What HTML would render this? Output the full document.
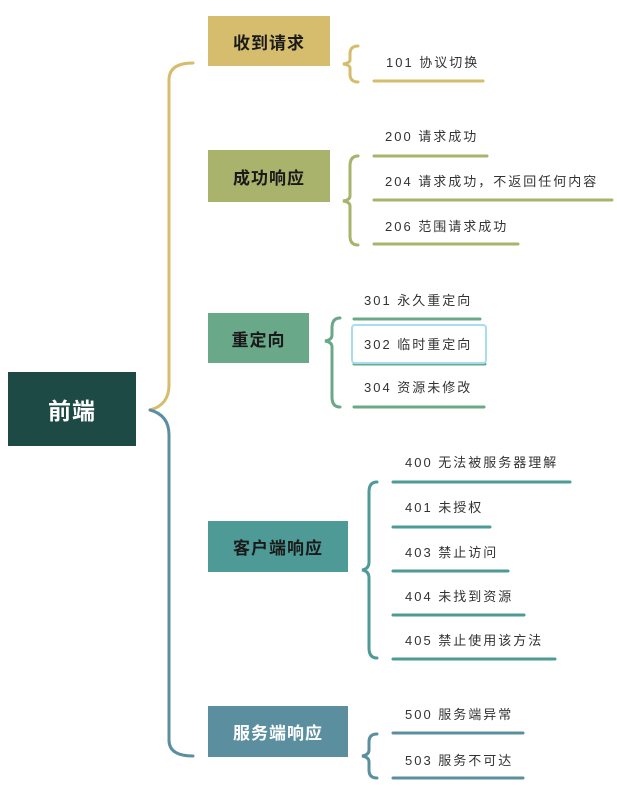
<!DOCTYPE html>
<html><head><meta charset="utf-8"><style>
body{margin:0;width:617px;height:791px;background:#fff;position:relative;overflow:hidden;font-family:"Liberation Sans","Noto Sans CJK SC",sans-serif}
.b{position:absolute;display:flex;align-items:center;justify-content:center;font-weight:bold;font-size:17px;color:#1a1a1a;letter-spacing:1px}
.t{position:absolute;font-size:13px;color:#333;line-height:16px;white-space:nowrap;letter-spacing:2px}
svg{position:absolute;left:0;top:0}
</style></head><body>
<svg width="617" height="791" fill="none" stroke-linecap="round">
<path d="M150 410 Q169 405 169 385 L169 80 Q169 63 193 63" stroke="#d6bd6e" stroke-width="3"/>
<path d="M150 410 Q169 415 169 435 L169 740 Q169 756 193 756" stroke="#5b8fa0" stroke-width="3"/>
<path d="M358 46 Q350 46 350 54 L350 60 Q350 63 343 64 Q350 65 350 68 L350 74 Q350 82 358 82" stroke="#d6bd6e" stroke-width="3"/>
<path d="M358 156 Q350 156 350 166 L350 196 Q350 200 343 201 Q350 202 350 206 L350 236 Q350 245 358 245" stroke="#a9b36b" stroke-width="3"/>
<path d="M340 318 Q332 318 332 328 L332 335 Q332 340 325 341 Q332 342 332 347 L332 397 Q332 407 340 407" stroke="#6aa88a" stroke-width="3"/>
<path d="M377 482 Q369 482 369 492 L369 562 Q369 569 362 570 Q369 571 369 578 L369 648 Q369 658 377 658" stroke="#4e9a96" stroke-width="3"/>
<path d="M377 734 Q369 734 369 742 L369 750 Q369 755 362 756 Q369 757 369 762 L369 770 Q369 778 377 778" stroke="#5b8fa0" stroke-width="3"/>
<g stroke-width="3">
<path d="M374 81 H483" stroke="#d6bd6e"/>
<path d="M374 156 H487" stroke="#a9b36b"/>
<path d="M374 200 H612" stroke="#a9b36b"/>
<path d="M374 244 H518" stroke="#a9b36b"/>
<path d="M354 319 H480" stroke="#6aa88a"/>
<path d="M354 364 H485" stroke="#6aa88a"/>
<path d="M354 407 H484" stroke="#6aa88a"/>
<path d="M393 482 H570" stroke="#4e9a96"/>
<path d="M393 527 H490" stroke="#4e9a96"/>
<path d="M393 571 H508" stroke="#4e9a96"/>
<path d="M393 615 H524" stroke="#4e9a96"/>
<path d="M393 659 H555" stroke="#4e9a96"/>
<path d="M393 733 H523" stroke="#5b8fa0"/>
<path d="M393 778 H523" stroke="#5b8fa0"/>
</g>
<rect x="352" y="325" width="134" height="38" rx="3" stroke="#a8dcef" stroke-width="2" fill="#fff"/>
</svg>
<div class="b" style="left:8px;top:372px;width:128px;height:74px;background:#1e4a45;color:#fff;font-size:23px">前端</div>
<div class="b" style="left:208px;top:16px;width:122px;height:50px;background:#d6bd6e">收到请求</div>
<div class="b" style="left:208px;top:150px;width:122px;height:52px;background:#a9b36b">成功响应</div>
<div class="b" style="left:208px;top:313px;width:101px;height:50px;background:#6aa88a">重定向</div>
<div class="b" style="left:208px;top:521px;width:140px;height:51px;background:#4e9a96">客户端响应</div>
<div class="b" style="left:208px;top:706px;width:140px;height:51px;background:#5b8fa0;color:#fff">服务端响应</div>
<div class="t" style="left:386px;top:55px">101 协议切换</div>
<div class="t" style="left:385px;top:129px">200 请求成功</div>
<div class="t" style="left:385px;top:174px">204 请求成功，不返回任何内容</div>
<div class="t" style="left:385px;top:219px">206 范围请求成功</div>
<div class="t" style="left:364px;top:293px">301 永久重定向</div>
<div class="t" style="left:364px;top:337px">302 临时重定向</div>
<div class="t" style="left:364px;top:380px">304 资源未修改</div>
<div class="t" style="left:405px;top:455px">400 无法被服务器理解</div>
<div class="t" style="left:405px;top:500px">401 未授权</div>
<div class="t" style="left:405px;top:545px">403 禁止访问</div>
<div class="t" style="left:405px;top:589px">404 未找到资源</div>
<div class="t" style="left:405px;top:633px">405 禁止使用该方法</div>
<div class="t" style="left:405px;top:707px">500 服务端异常</div>
<div class="t" style="left:405px;top:753px">503 服务不可达</div>
</body></html>
